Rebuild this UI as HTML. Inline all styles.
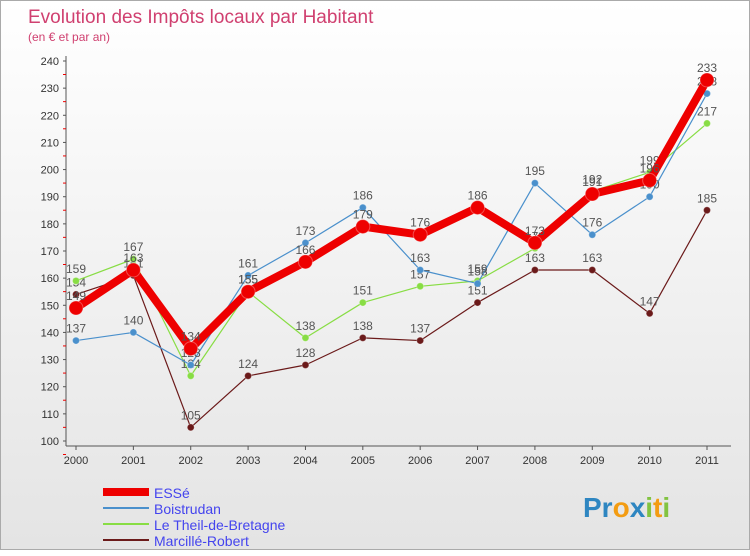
<!DOCTYPE html>
<html><head><meta charset="utf-8"><style>
body{margin:0;width:750px;height:550px;overflow:hidden;font-family:"Liberation Sans",sans-serif}
#c{position:absolute;left:0;top:0;width:748px;height:548px;border:1px solid #aaa;background:linear-gradient(#fff,#e4e4e4)}
</style></head><body>
<div id="c">
<svg id="s" width="750" height="550"></svg>
</div>
<script>
const years=["2000","2001","2002","2003","2004","2005","2006","2007","2008","2009","2010","2011"];
const yTicks=[100,110,120,130,140,150,160,170,180,190,200,210,220,230,240];
const essé=[149,163,134,155,166,179,176,186,173,191,196,233];
const boistrudan=[137,140,128,161,173,186,163,158,195,176,190,228];
const theil=[159,167,124,155,138,151,157,159,171,192,199,217];
const marcille=[154,161,105,124,128,138,137,151,163,163,147,185];
const series=[
 {name:"Marcillé-Robert",v:marcille,c:"#6b1a1a",w:1.2,r:3.5,key:"marcille"},
 {name:"Le Theil-de-Bretagne",v:theil,c:"#88dd44",w:1.2,r:3.5,key:"theil"},
 {name:"Boistrudan",v:boistrudan,c:"#4a90cc",w:1.2,r:3.5,key:"boistrudan"},
 {name:"ESSé",v:essé,c:"#ee0000",w:8,r:7,key:"esse"}];
const NS="http://www.w3.org/2000/svg",s=document.getElementById('s');
function el(t,a,p){const e=document.createElementNS(NS,t);for(const k in a)e.setAttribute(k,a[k]);(p||s).appendChild(e);return e;}
const X=i=>75+i*(706-75)/11, Y=v=>440-(v-100)*380/140;
let t=el('text',{x:27,y:22,'font-size':19,fill:'#d04070'});t.textContent="Evolution des Impôts locaux par Habitant";

t=el('text',{x:27,y:40,'font-size':12,fill:'#d04070'});t.textContent="(en € et par an)";

el('line',{x1:65,y1:55,x2:65,y2:445,stroke:'#555'});
el('line',{x1:65,y1:445,x2:730,y2:445,stroke:'#555'});
yTicks.forEach(v=>{const y=Y(v);
 el('line',{x1:62,y1:y,x2:65,y2:y,stroke:'#555'});
 el('line',{x1:62,y1:y+13.5,x2:65,y2:y+13.5,stroke:'#e00'});
 const tt=el('text',{x:58,y:y+4,'font-size':11,fill:'#333','text-anchor':'end'});tt.textContent=v;
 });
years.forEach((yr,i)=>{const x=X(i);el('line',{x1:x,y1:445,x2:x,y2:449,stroke:'#555'});
 const tt=el('text',{x:x,y:463,'font-size':11,fill:'#333','text-anchor':'middle'});tt.textContent=yr;
 });
series.forEach(se=>{
 const g=el('g',{});
 el('polyline',{points:se.v.map((v,i)=>X(i)+','+Y(v)).join(' '),fill:'none',stroke:se.c,'stroke-width':se.w,'stroke-linejoin':'round'},g);
 se.v.forEach((v,i)=>{const p=el('circle',{cx:X(i),cy:Y(v),r:se.r,fill:se.c,stroke:'#fff','stroke-opacity':.3},g);
  
  const tt=el('text',{x:X(i),y:Y(v)-8,'font-size':12,fill:'#555','text-anchor':'middle'},g);tt.textContent=v;
  });
});
const leg=[["ESSé","#ee0000",8],["Boistrudan","#4a90cc",2],["Le Theil-de-Bretagne","#88dd44",2],["Marcillé-Robert","#6b1a1a",2]];
leg.forEach((l,i)=>{const y=491+i*16;const g=el('g',{});
 el('line',{x1:102,y1:y,x2:148,y2:y,stroke:l[1],'stroke-width':l[2]},g);
 const tt=el('text',{x:153,y:y+6,'font-size':14,fill:'#4444ee'},g);tt.textContent=l[0];});
const lg=el('text',{x:582,y:516,'font-size':28,'font-weight':'bold',fill:'#f39c12'});

[["Pr","#2e86c1"],["o","#f39c12"],["x","#2e86c1"],["i","#82c341"],["t","#f39c12"],["i","#82c341"]].forEach(p=>{const ts=el('tspan',{fill:p[1]},lg);ts.textContent=p[0];});
</script></body></html>
